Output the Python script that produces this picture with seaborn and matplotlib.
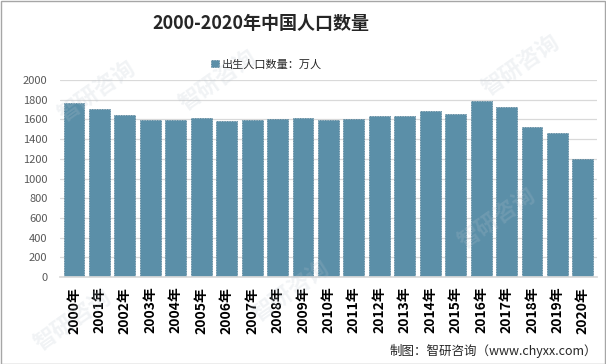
import matplotlib
matplotlib.use("Agg")
import matplotlib.pyplot as plt
import seaborn as sns
import pandas as pd

years = [str(y) + "年" for y in range(2000, 2021)]
births = [1771, 1702, 1647, 1599, 1593, 1617, 1585, 1595, 1608, 1615, 1592,
          1604, 1635, 1640, 1687, 1655, 1786, 1723, 1523, 1465, 1200]
series_name = "出生人口数量：万人"
title = "2000-2020年中国人口数量"
source = "制图：智研咨询（www.chyxx.com）"

sns.set_theme(style="white")
plt.rcParams['font.family'] = ['Noto Sans CJK SC', 'DejaVu Sans']

df = pd.DataFrame({"year": years, "births": births, "series": series_name})

fig = plt.figure(figsize=(6.06, 3.64), dpi=100)
ax = fig.add_axes([0.099, 0.239, 0.886, 0.541])
bar_color = "#5b8fa8"
sns.barplot(data=df, x="year", y="births", hue="series", palette=[bar_color],
            width=0.82, edgecolor="#4a7890", linewidth=0.6, ax=ax, saturation=1)
for p in ax.patches:
    p.set_linestyle((0, (1, 1)))

ax.set_ylim(0, 2000)
ax.set_yticks(range(0, 2001, 200))
ax.yaxis.grid(True, color="#d9d9d9", linewidth=0.9)
ax.set_axisbelow(True)
for s in ["top", "right", "left"]:
    ax.spines[s].set_visible(False)
ax.spines["bottom"].set_color("#d9d9d9")
ax.set_xlabel("")
ax.set_ylabel("")
ax.tick_params(axis="y", labelsize=8, colors="#595959", length=0, pad=9)
ax.tick_params(axis="x", labelsize=10, colors="black", length=0, pad=7)
for lbl in ax.get_xticklabels():
    lbl.set_rotation(90)
    lbl.set_fontweight("bold")
ax.set_xlim(-0.55, len(years) - 0.45)

leg = ax.legend(loc="center", bbox_to_anchor=(0.385, 1.08), frameon=False,
                fontsize=8, handlelength=0.7, handleheight=0.7, handletextpad=0.3)

fig.text(0.43, 0.935, title, ha="center", va="center", fontsize=13,
         fontweight="bold", color="#262626")
fig.text(0.985, 0.035, source, ha="right", va="center", fontsize=9, color="#262626")

# watermarks
for (x, y) in [(0.16, 0.75), (0.36, 0.78), (0.48, 0.20), (0.86, 0.82), (0.12, 0.12), (0.82, 0.40)]:
    fig.text(x, y, "智研咨询", fontsize=16, rotation=35, color="#b8c4cf", alpha=0.2,
             ha="center", va="center", fontweight="bold")

fig.patches.append(plt.Rectangle((0.001, 0.001), 0.997, 0.997, transform=fig.transFigure,
                                 fill=False, edgecolor="#a6a6a6", linewidth=1.0))

fig.savefig("out.png", dpi=100)
